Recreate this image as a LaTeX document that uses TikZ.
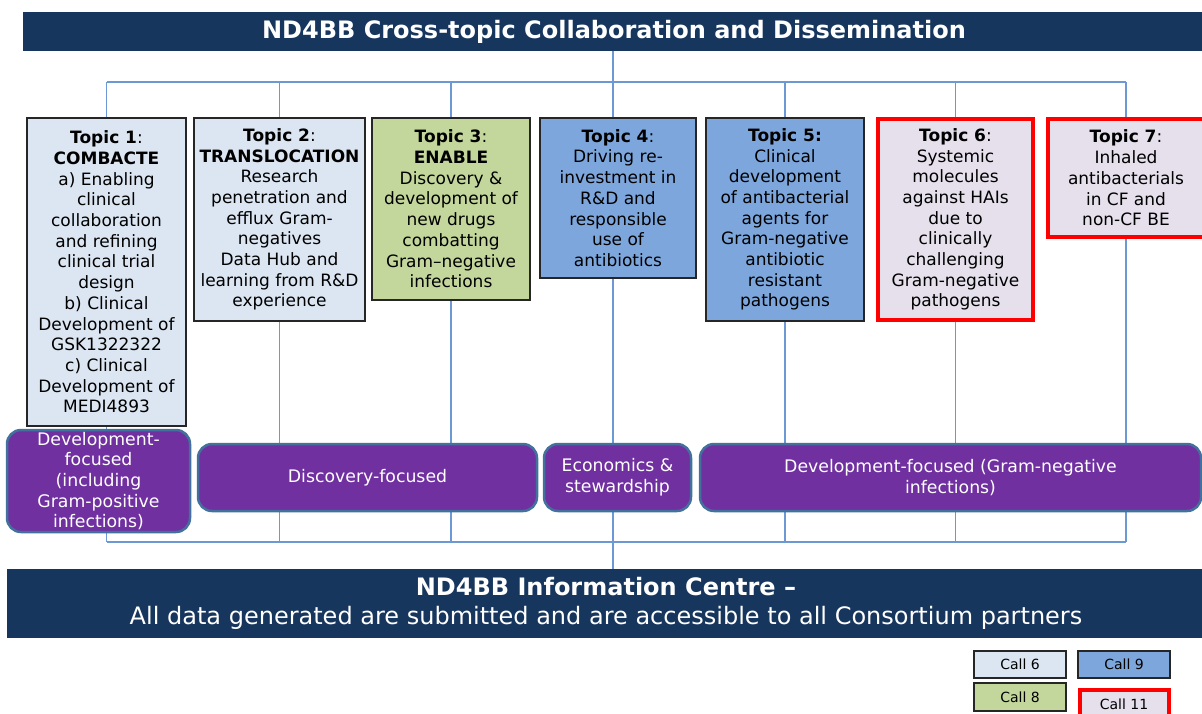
\documentclass[tikz,border=0pt]{standalone}
\usepackage{fontspec}
\setmainfont{DejaVu Sans}
\pgfdeclarelayer{bg}
\pgfsetlayers{bg,main}
\definecolor{navy}{RGB}{23,54,93}
\definecolor{linec}{RGB}{108,152,212}
\definecolor{lblue}{RGB}{220,230,242}
\definecolor{lgreen}{RGB}{195,214,155}
\definecolor{mblue}{RGB}{125,167,220}
\definecolor{lav}{RGB}{230,224,236}
\definecolor{purp}{RGB}{112,48,160}
\definecolor{pborder}{RGB}{65,113,156}
\definecolor{boxline}{RGB}{38,38,38}
\begin{document}
\begin{tikzpicture}[x=1pt,y=-1pt,
  topic/.style={draw=boxline, line width=1.5pt, align=center, inner sep=0pt,
    font=\fontsize{17}{20.7}\selectfont},
  redtopic/.style={topic, draw=red, line width=4pt, fill=lav},
  purpbox/.style={fill=purp, draw=pborder, line width=2.5pt, rounded corners=14pt,
    text=white, align=center, inner sep=0pt, font=\fontsize{17.3}{20.7}\selectfont},
  link/.style={draw=linec, line width=1.5pt},
  banner/.style={fill=navy, text=white, inner sep=0pt, align=center},
  callbox/.style={draw=boxline, line width=1.5pt, inner sep=0pt,
    minimum width=92pt, minimum height=27pt, font=\fontsize{14}{16}\selectfont}]
\useasboundingbox (0,0) rectangle (1202,713);

% banners
\node[banner, minimum width=1182pt, minimum height=39pt, font=\fontsize{24}{28}\selectfont\bfseries] (top) at (614,31.5)
  {ND4BB Cross-topic Collaboration and Dissemination};
\node[banner, minimum width=1198pt, minimum height=69pt, font=\fontsize{24}{29}\selectfont] (bot) at (606,603.5)
  {\textbf{ND4BB Information Centre –}\\
   All data generated are submitted and are accessible to all Consortium partners};

% hubs
\coordinate (hubT) at (613,82);
\coordinate (hubB) at (613,542);

% topics
\node[topic, fill=lblue, minimum width=159pt, minimum height=308pt] (t1) at (106.5,272)
  {\textbf{Topic 1}:\\ \textbf{COMBACTE}\\ a) Enabling\\ clinical\\ collaboration\\ and refining\\ clinical trial\\ design\\ b) Clinical\\ Development of\\ GSK1322322\\ c) Clinical\\ Development of\\ MEDI4893};
\node[topic, fill=lblue, minimum width=171pt, minimum height=203pt] (t2) at (279.5,219.5)
  {\textbf{Topic 2}:\\ \textbf{TRANSLOCATION}\\ Research\\ penetration and\\ efflux Gram-\\ negatives\\ Data Hub and\\ learning from R\&D\\ experience};
\node[topic, fill=lgreen, minimum width=158pt, minimum height=182pt] (t3) at (451,209)
  {\textbf{Topic 3}:\\ \textbf{ENABLE}\\ Discovery \&\\ development of\\ new drugs\\ combatting\\ Gram–negative\\ infections};
\node[topic, fill=mblue, minimum width=156pt, minimum height=160pt] (t4) at (618,198)
  {\textbf{Topic 4}:\\ Driving re-\\ investment in\\ R\&D and\\ responsible\\ use of\\ antibiotics};
\node[topic, fill=mblue, minimum width=158pt, minimum height=203pt] (t5) at (785,219.5)
  {\textbf{Topic 5:}\\ Clinical\\ development\\ of antibacterial\\ agents for\\ Gram-negative\\ antibiotic\\ resistant\\ pathogens};
\node[redtopic, minimum width=155pt, minimum height=201pt] (t6) at (955.5,219.5)
  {\textbf{Topic 6}:\\ Systemic\\ molecules\\ against HAIs\\ due to\\ clinically\\ challenging\\ Gram-negative\\ pathogens};
\node[redtopic, minimum width=156pt, minimum height=118pt] (t7) at (1126,178)
  {\textbf{Topic 7}:\\ Inhaled\\ antibacterials\\ in CF and\\ non-CF BE};

% focus boxes
\node[purpbox, minimum width=183pt, minimum height=102pt] (p1) at (98.5,481)
  {Development-\\ focused\\ (including\\ Gram-positive\\ infections)};
\node[purpbox, minimum width=339pt, minimum height=67pt] (p2) at (367.5,477.5)
  {Discovery-focused};
\node[purpbox, minimum width=147pt, minimum height=67pt] (p3) at (617.5,477.5)
  {Economics \&\\ stewardship};
\node[purpbox, minimum width=501pt, minimum height=67pt] (p4) at (950.5,477.5)
  {Development-focused (Gram-negative\\ infections)};

% legend
\node[callbox, fill=lblue] (c6) at (1020,664.5) {Call 6};
\node[callbox, fill=mblue] (c9) at (1124,664.5) {Call 9};
\node[callbox, fill=lgreen, minimum height=28pt] (c8) at (1020,697) {Call 8};
\node[callbox, fill=lav, draw=red, line width=4pt, minimum width=89pt, minimum height=28pt] (c11) at (1124,704) {Call 11};

% connectors
\begin{pgfonlayer}{bg}
\draw[link] (hubT |- top.south) -- (hubT);
\draw[link] (hubT -| t1) -- (hubT -| t7);
\foreach \t in {t1,t2,t3,t5,t6,t7}{
  \draw[link] (hubT -| \t) -- (\t.north);
  \draw[link] (\t.south) -- (hubB -| \t);
}
\draw[link] (hubT) -- (hubT |- t4.north);
\draw[link] (hubT |- t4.south) -- (hubB);
\draw[link] (hubB -| t1) -- (hubB -| t7);
\draw[link] (hubB) -- (hubB |- bot.north);
\end{pgfonlayer}
\end{tikzpicture}
\end{document}
